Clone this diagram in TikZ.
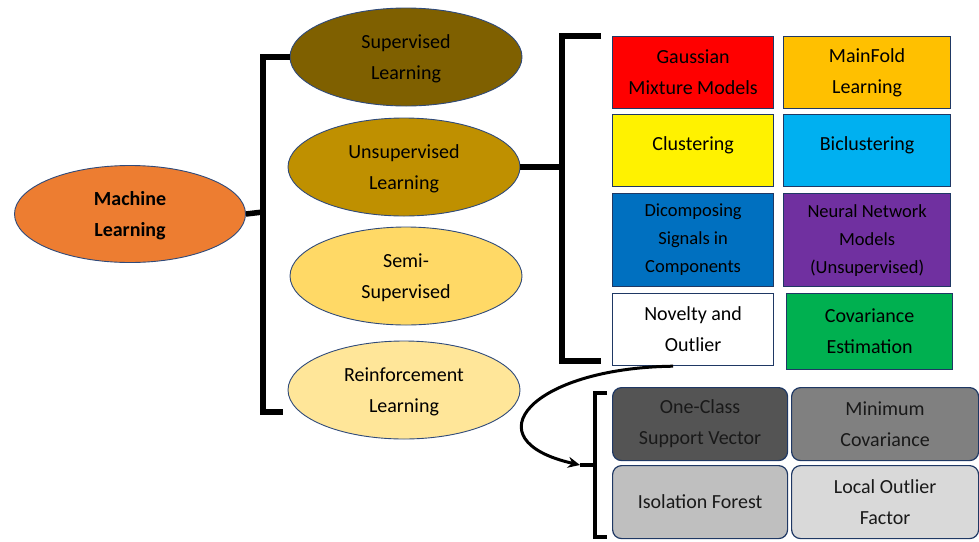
\documentclass[tikz,border=0pt]{standalone}
\usepackage{fontspec}
\setmainfont{Carlito}
\usetikzlibrary{shapes.geometric,arrows.meta}
\definecolor{navy}{HTML}{2F4A7A}
\definecolor{slate}{HTML}{1F3864}
\definecolor{mlorange}{HTML}{ED7D31}
\definecolor{supbrown}{HTML}{7F6000}
\definecolor{unsupgold}{HTML}{BF9000}
\definecolor{semiyellow}{HTML}{FFD966}
\definecolor{reinyellow}{HTML}{FFE699}
\definecolor{mfgold}{HTML}{FFC000}
\definecolor{bicyan}{HTML}{00B0F0}
\definecolor{decblue}{HTML}{0070C0}
\definecolor{nnpurple}{HTML}{7030A0}
\definecolor{covgreen}{HTML}{00B050}
\begin{document}
\begin{tikzpicture}[x = 1pt, y = -1pt,
    oval/.style = {ellipse, draw = navy, line width = 0.9pt, minimum width = 232pt,
      minimum height = 98pt, inner sep = 0pt, align = center, text depth = 0pt,
      font = \fontsize{20}{31}\selectfont},
    box/.style = {draw = slate, line width = 1.2pt, inner sep = 0pt, align = center,
      anchor = north west, minimum width = 161pt, minimum height = 72pt,
      font = \fontsize{20}{31}\selectfont},
    small/.style = {font = \fontsize{18.5}{28}\selectfont},
    greybox/.style = {box, rounded corners = 9pt, minimum width = 175pt, minimum height = 73pt,
      text = black!90},
    brace/.style = {line width = 5.5pt},
  ]
    \useasboundingbox (0,0) rectangle (979,541);
    % ellipses
    \node [oval, fill = mlorange, minimum width = 231pt, minimum height = 97pt, font = \fontsize{20}{31}\selectfont\bfseries] (ml) at (130, 214) {Machine\\Learning};
    \node [oval, fill = supbrown] (sup) at (406, 57) {Supervised\\Learning};
    \node [oval, fill = unsupgold] (unsup) at (404, 167) {Unsupervised\\Learning};
    \node [oval, fill = semiyellow] (semi) at (406, 276) {Semi-\\Supervised};
    \node [oval, fill = reinyellow] (rein) at (404, 390) {Reinforcement\\Learning};
    % left bracket
    \draw [brace] (sup.west) -| (263, 412) -- (283, 412);
    \draw [brace] (ml.east) -- (263, 212);
    % unsupervised methods
    \node [box, fill = red] (gauss) at (612, 36) {Gaussian\\Mixture Models};
    \node [box, fill = mfgold, minimum width = 167pt] (mani) at (783, 36) {MainFold\\Learning};
    \node [box, fill = yellow] (clus) at (612, 114) {Clustering\\[-17pt]};
    \node [box, fill = bicyan, minimum width = 167pt] (bicl) at (783, 114) {Biclustering\\[-17pt]};
    \node [box, small, fill = decblue, minimum height = 93pt] (deco) at (612, 193) {Dicomposing\\Signals in\\Components};
    \node [box, small, fill = nnpurple, minimum width = 167pt, minimum height = 93pt] (nnm) at (783, 193) {Neural Network\\Models\\(Unsupervised)};
    \node [box, fill = white] (nov) at (612, 293) {Novelty and\\Outlier};
    \node [box, fill = covgreen, minimum width = 166pt, minimum height = 76pt] (cov) at (786, 293) {Covariance\\Estimation};
    % right bracket
    \draw [brace] (601, 36) -| (562, 361) -- (601, 361);
    \draw [brace] (unsup.east) -- (562, 167);
    % outlier methods
    \node [greybox, fill = black!67] (ocsv) at (612, 387) {One-Class\\Support Vector};
    \node [greybox, fill = black!50, minimum width = 187pt] (mcd) at (791, 387) {Minimum\\Covariance};
    \node [greybox, fill = black!25] (iso) at (612, 465) {Isolation Forest};
    \node [greybox, fill = black!15, minimum width = 187pt] (lof) at (791, 465) {Local Outlier\\Factor};
    % lower bracket
    \draw [brace, line width = 4.5pt] (607, 393) -| (595, 537) -- (607, 537);
    \coordinate (tip) at (580, 465);
    \draw [line width = 4.5pt] (595, 465) -- (tip);
    \draw [line width = 3pt, -{Stealth[length = 12pt, width = 11pt]}] ([xshift = -20pt]nov.south) .. controls (530, 368) and (470, 440) .. (tip);
\end{tikzpicture}
\end{document}
